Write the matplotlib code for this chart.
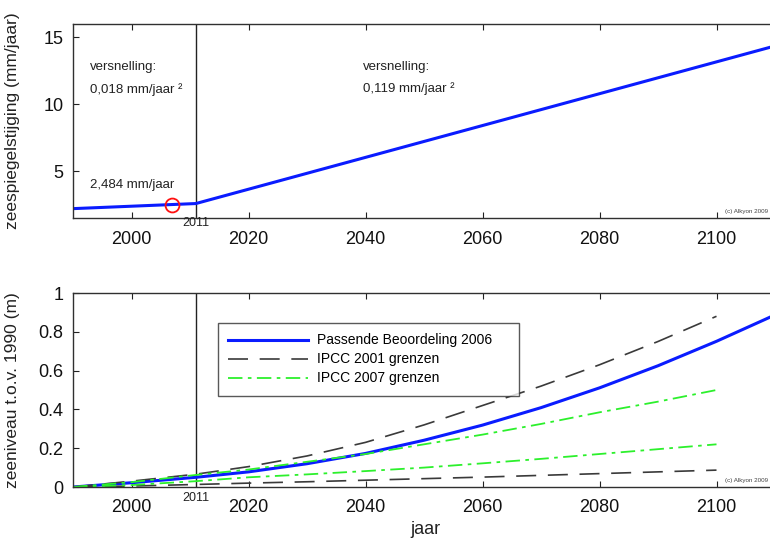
import matplotlib
matplotlib.use("Agg")
import matplotlib.pyplot as plt

plt.rcParams['font.family'] = ['Liberation Sans', 'DejaVu Sans']

# --- sea-level rise rate (mm/jaar) ---
rate_years = [1990, 2011, 2110]
rate_values = [2.20, 2.58, 14.36]
marker_year = 2007
marker_rate = 2.484

# --- sea level relative to 1990 (m) ---
years = [1990, 2000, 2011, 2020, 2030, 2040, 2050, 2060, 2070, 2080, 2090, 2100, 2110]
pb2006 = [0.000, 0.022, 0.050, 0.078, 0.120, 0.173, 0.241, 0.319, 0.409, 0.511, 0.625, 0.751, 0.887]

ipcc_years = [1990, 2000, 2011, 2020, 2030, 2040, 2050, 2060, 2070, 2080, 2090, 2100]
ipcc2001_hi = [0.000, 0.030, 0.066, 0.105, 0.160, 0.230, 0.320, 0.420, 0.520, 0.630, 0.750, 0.880]
ipcc2001_lo = [0.000, 0.005, 0.013, 0.020, 0.027, 0.035, 0.043, 0.051, 0.060, 0.069, 0.078, 0.087]
ipcc2007_hi = [0.000, 0.025, 0.062, 0.090, 0.130, 0.170, 0.220, 0.270, 0.325, 0.385, 0.440, 0.500]
ipcc2007_lo = [0.000, 0.010, 0.030, 0.050, 0.065, 0.082, 0.100, 0.122, 0.145, 0.170, 0.195, 0.220]

xticks = [2000, 2020, 2040, 2060, 2080, 2100]
split_year = 2011

BLUE = '#0a1cff'
GREY = '#3a3a3a'
GREEN = '#2cf02c'
TXT = '#222222'

fig = plt.figure(figsize=(7.7, 5.4), dpi=100)
ax1 = fig.add_axes([73 / 770, 1 - 218 / 540, 702 / 770, 194 / 540])
ax2 = fig.add_axes([73 / 770, 1 - 487 / 540, 702 / 770, 194 / 540])

for ax, yoff in ((ax1, -0.025), (ax2, -0.058)):
    ax.set_xlim(1990, 2110)
    ax.set_xticks(xticks)
    ax.tick_params(direction='in', top=True, right=False, length=4,
                   labelsize=13, color=TXT, labelcolor='#111111')
    ax.tick_params(axis='x', pad=9)
    ax.tick_params(axis='y', pad=7)
    for s in ax.spines.values():
        s.set_color('#303030')
        s.set_linewidth(1.0)
    ax.axvline(split_year, color=TXT, lw=1.0)
    ax.text(split_year, yoff, str(split_year), transform=ax.get_xaxis_transform(),
            ha='center', va='center', fontsize=9, color=TXT)
    ax.text(2101.5, 0.02, '(c) Alkyon 2009', transform=ax.get_xaxis_transform(),
            fontsize=4.5, color='#444444', va='bottom')

# Top panel: rate of rise
ax1.set_ylim(1.5, 16)
ax1.set_yticks([5, 10, 15])
ax1.plot(rate_years, rate_values, color=BLUE, lw=2.2)
ax1.plot([marker_year], [marker_rate], 'o', ms=10, mfc='none', mec='#ff1010', mew=1.3)
ax1.set_ylabel('zeespiegelstijging (mm/jaar)', fontsize=12.5, color=TXT)
ax1.yaxis.set_label_coords(-0.075, 0.5)

ax1.text(1992.9, 12.75, 'versnelling:', fontsize=9.5, va='center', color=TXT)
ax1.text(1992.9, 11.1, '0,018 mm/jaar ²', fontsize=9.5, va='center', color=TXT)
ax1.text(1992.9, 3.95, '2,484 mm/jaar', fontsize=9.5, va='center', color=TXT)
ax1.text(2039.6, 12.8, 'versnelling:', fontsize=9.5, va='center', color=TXT)
ax1.text(2039.6, 11.2, '0,119 mm/jaar ²', fontsize=9.5, va='center', color=TXT)

# Bottom panel: sea level relative to 1990
ax2.set_ylim(0, 1)
ax2.set_yticks([0, 0.2, 0.4, 0.6, 0.8, 1])
ax2.set_yticklabels(['0', '0.2', '0.4', '0.6', '0.8', '1'])
ax2.plot(years, pb2006, color=BLUE, lw=2.2, label='Passende Beoordeling 2006')
ax2.plot(ipcc_years, ipcc2001_hi, color=GREY, lw=1.2, dashes=(12, 7), label='IPCC 2001 grenzen')
ax2.plot(ipcc_years, ipcc2001_lo, color=GREY, lw=1.2, dashes=(12, 7))
ax2.plot(ipcc_years, ipcc2007_hi, color=GREEN, lw=1.3, dashes=(8, 3, 2, 3), label='IPCC 2007 grenzen')
ax2.plot(ipcc_years, ipcc2007_lo, color=GREEN, lw=1.3, dashes=(8, 3, 2, 3))
ax2.set_ylabel('zeeniveau t.o.v. 1990 (m)', fontsize=12.5, color=TXT)
ax2.yaxis.set_label_coords(-0.075, 0.5)
fig.text(425 / 770, 1 - 530 / 540, 'jaar', fontsize=13, ha='center', va='center', color=TXT)

# legend box spanning a fixed width inside the lower panel
lx0 = (218 - 73) / 702
ly1 = 1 - (323 - 293) / 194
lw_ = (519 - 218) / 702
lh_ = (390 - 323) / 194
leg = ax2.legend(loc='upper left', bbox_to_anchor=(lx0, ly1 - lh_, lw_, lh_), mode='expand',
                 fontsize=10, frameon=True, fancybox=False, handlelength=5.7,
                 borderpad=0.75, labelspacing=0.36, borderaxespad=0, handletextpad=0.7)
leg.get_frame().set_edgecolor('#303030')
leg.get_frame().set_linewidth(1.0)

fig.savefig('out.png', dpi=100)
